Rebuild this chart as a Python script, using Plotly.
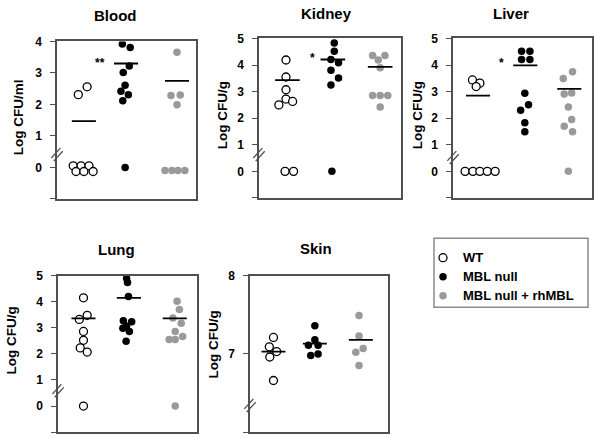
import plotly.graph_objects as go

FONT = "Liberation Sans, Arial, Helvetica, sans-serif"
W, H = 602, 439

series_names = ["WT", "MBL null", "MBL null + rhMBL"]

# ---------------- data ----------------
blood_wt_y = [2.31, 2.56, 0.05, 0.05, 0.05, -0.13, -0.13, -0.13]
blood_wt_x = [0.91, 1.10, 0.80, 0.97, 1.14, 0.86, 1.03, 1.23]
blood_null_y = [3.92, 3.81, 3.22, 3.01, 2.61, 2.42, 2.31, 2.12, 0.0]
blood_null_x = [1.86, 2.03, 2.01, 1.88, 1.92, 1.83, 1.99, 1.87, 1.92]
blood_rh_y = [3.66, 2.28, 2.30, 1.99, -0.10, -0.10, -0.10, -0.10]
blood_rh_x = [3.04, 2.91, 3.11, 3.04, 2.78, 2.93, 3.06, 3.21]
blood_means = [1.47, 3.30, 2.75]
blood_mean_x = [1.03, 1.94, 3.04]

kidney_wt_y = [4.19, 3.55, 3.07, 2.50, 2.72, 2.63, 0.0, 0.0]
kidney_wt_x = [1.02, 1.02, 1.02, 0.87, 1.02, 1.16, 1.00, 1.18]
kidney_null_y = [4.83, 4.52, 4.21, 4.09, 3.80, 3.51, 3.25, 0.0]
kidney_null_x = [2.04, 2.04, 1.97, 2.13, 1.97, 2.13, 1.97, 1.99]
kidney_rh_y = [4.36, 4.36, 4.19, 3.90, 2.85, 2.85, 2.85, 2.42]
kidney_rh_x = [2.85, 3.11, 2.97, 3.01, 2.85, 3.01, 3.17, 3.01]
kidney_means = [3.43, 4.21, 3.93]
kidney_mean_x = [1.05, 2.01, 3.01]

liver_wt_y = [3.44, 3.32, 3.19, 0.0, 0.0, 0.0, 0.0, 0.0]
liver_wt_x = [0.87, 1.03, 0.95, 0.71, 0.88, 1.03, 1.19, 1.36]
liver_null_y = [4.52, 4.52, 4.21, 4.21, 2.94, 2.51, 2.30, 1.83, 1.49]
liver_null_x = [1.93, 2.11, 1.93, 2.11, 2.00, 2.08, 1.91, 2.00, 2.00]
liver_rh_y = [3.75, 3.49, 2.91, 2.95, 2.42, 1.95, 1.70, 1.49, 0.0]
liver_rh_x = [3.03, 2.83, 2.85, 3.01, 2.94, 3.01, 2.85, 3.03, 2.94]
liver_means = [2.85, 3.99, 3.10]
liver_mean_x = [0.99, 2.01, 2.96]

lung_wt_y = [4.15, 3.48, 3.32, 2.86, 2.52, 2.23, 2.07, 0.0]
lung_wt_x = [1.00, 1.08, 0.91, 1.00, 1.00, 0.93, 1.08, 1.00]
lung_null_y = [4.90, 4.74, 4.20, 3.27, 3.23, 3.07, 2.98, 2.86, 2.48]
lung_null_x = [1.93, 1.95, 1.97, 1.86, 2.04, 1.93, 1.85, 1.99, 1.92]
lung_rh_y = [4.02, 3.70, 3.38, 3.17, 2.86, 2.55, 2.55, 2.67, 0.0]
lung_rh_x = [3.02, 3.07, 2.93, 3.11, 2.98, 2.85, 2.98, 3.14, 2.98]
lung_means = [3.36, 4.15, 3.36]
lung_mean_x = [1.00, 1.98, 2.97]

skin_wt_y = [7.21, 7.09, 7.03, 6.96, 6.66]
skin_wt_x = [0.96, 0.87, 1.03, 0.88, 0.96]
skin_null_y = [7.36, 7.18, 7.11, 7.11, 6.98, 7.00]
skin_null_x = [1.86, 1.86, 1.72, 1.93, 1.77, 1.93]
skin_rh_y = [7.49, 7.23, 7.07, 7.02, 6.85]
skin_rh_x = [2.82, 2.82, 2.91, 2.75, 2.82]
skin_means = [7.03, 7.13, 7.18]
skin_mean_x = [0.96, 1.86, 2.86]

std_ticks = [-1, 0, 1, 2, 3, 4, 5]
std_ticktext = ["", "0", "1", "2", "3", "4", "5"]
blood_ticks = [-1, 0, 1, 2, 3, 4]
blood_ticktext = ["", "0", "1", "2", "3", "4"]
skin_ticks = [6, 7, 8]
skin_ticktext = ["0", "7", "8"]

# ---------------- layout (pixel boxes) ----------------
def px2x(p):
    return p / W

def px2y(p):
    return 1 - p / H

panels = [
    dict(title="Blood", ytitle="Log CFU/ml", box=(57, 196, 35, 195), yr=[-1, 4],
         tv=blood_ticks, tt=blood_ticktext,
         wt=(blood_wt_x, blood_wt_y), null=(blood_null_x, blood_null_y), rh=(blood_rh_x, blood_rh_y),
         means=blood_means, mx=blood_mean_x,
         tpos=(115, 14), ypos=(18, 112), brk=150, star=("**", 1.38, 3.33)),
    dict(title="Kidney", ytitle="Log CFU/g", box=(259, 401, 32, 194), yr=[-1, 5],
         tv=std_ticks, tt=std_ticktext,
         wt=(kidney_wt_x, kidney_wt_y), null=(kidney_null_x, kidney_null_y), rh=(kidney_rh_x, kidney_rh_y),
         means=kidney_means, mx=kidney_mean_x,
         tpos=(327, 12), ypos=(222, 110), brk=150, star=("*", 1.59, 4.25)),
    dict(title="Liver", ytitle="Log CFU/g", box=(453, 592, 32, 194), yr=[-1, 5],
         tv=std_ticks, tt=std_ticktext,
         wt=(liver_wt_x, liver_wt_y), null=(liver_null_x, liver_null_y), rh=(liver_rh_x, liver_rh_y),
         means=liver_means, mx=liver_mean_x,
         tpos=(511, 12), ypos=(417, 110), brk=153, star=("*", 1.50, 4.06)),
    dict(title="Lung", ytitle="Log CFU/g", box=(58, 197, 273, 432), yr=[-1, 5],
         tv=std_ticks, tt=std_ticktext,
         wt=(lung_wt_x, lung_wt_y), null=(lung_null_x, lung_null_y), rh=(lung_rh_x, lung_rh_y),
         means=lung_means, mx=lung_mean_x,
         tpos=(116, 252), ypos=(12, 339), brk=390, star=None),
    dict(title="Skin", ytitle="Log CFU/g", box=(250, 388, 273, 432), yr=[6, 8],
         tv=skin_ticks, tt=skin_ticktext,
         wt=(skin_wt_x, skin_wt_y), null=(skin_null_x, skin_null_y), rh=(skin_rh_x, skin_rh_y),
         means=skin_means, mx=skin_mean_x,
         tpos=(316, 251), ypos=(214, 343), brk=405, star=None),
]

AXCOL = "#505050"
styles = {
    "wt": dict(color="white", size=8, line=dict(color="black", width=1.3)),
    "null": dict(color="black", size=7.5, line=dict(color="black", width=0)),
    "rh": dict(color="#9a9a9a", size=7.5, line=dict(color="#9a9a9a", width=0)),
}

fig = go.Figure()
layout = dict(
    width=W, height=H, margin=dict(l=0, r=0, t=0, b=0),
    paper_bgcolor="white", plot_bgcolor="white",
    font=dict(family=FONT, color="black"),
    showlegend=True,
)
annotations = []
shapes = []

for i, p in enumerate(panels):
    n = "" if i == 0 else str(i + 1)
    xa, ya = "x" + n, "y" + n
    x0, x1, y0, y1 = p["box"]
    layout["xaxis" + n] = dict(
        domain=[px2x(x0), px2x(x1)], range=[0.45, 3.45], anchor=ya,
        showline=True, mirror=True, linecolor=AXCOL, linewidth=1.5,
        showgrid=False, zeroline=False, showticklabels=False, ticks="",
        fixedrange=True,
    )
    layout["yaxis" + n] = dict(
        domain=[px2y(y1), px2y(y0)], range=p["yr"], anchor=xa,
        showline=True, mirror=True, linecolor=AXCOL, linewidth=1.5,
        showgrid=False, zeroline=False,
        tickvals=p["tv"], ticktext=p["tt"], ticks="outside", ticklen=5,
        tickcolor=AXCOL, tickwidth=1.2, ticklabelstandoff=6,
        tickfont=dict(family=FONT, size=12, color="black", weight="bold"),
        fixedrange=True,
    )
    for key, name in zip(["wt", "null", "rh"], series_names):
        xs, ys = p[key]
        fig.add_trace(go.Scatter(
            x=xs, y=ys, mode="markers", xaxis=xa, yaxis=ya,
            marker=dict(symbol="circle", **styles[key]),
            name='<span style="font-size:13px">%s</span>' % name,
            legendgroup=name, showlegend=(i == 0),
            hoverinfo="skip",
        ))
    for m, cx in zip(p["means"], p["mx"]):
        fig.add_trace(go.Scatter(
            x=[cx - 0.26, cx + 0.26], y=[m, m], mode="lines", xaxis=xa, yaxis=ya,
            line=dict(color="black", width=1.8), showlegend=False, hoverinfo="skip",
        ))
    tx, ty = p["tpos"]
    annotations.append(dict(
        text="<b>%s</b>" % p["title"], x=px2x(tx), y=px2y(ty), xref="paper", yref="paper",
        showarrow=False, xanchor="center", yanchor="middle", yshift=5,
        font=dict(family=FONT, size=15, color="black"),
    ))
    yx, yy = p["ypos"]
    annotations.append(dict(
        text="<b>%s</b>" % p["ytitle"], x=px2x(yx), y=px2y(yy), xref="paper", yref="paper",
        showarrow=False, xanchor="center", yanchor="middle", textangle=-90,
        font=dict(family=FONT, size=13.5, color="black"),
    ))
    if p["star"]:
        s, sx, sy = p["star"]
        annotations.append(dict(
            text="<b>%s</b>" % s, x=sx, y=sy, xref=xa, yref=ya,
            showarrow=False, xanchor="center", yanchor="middle",
            font=dict(family=FONT, size=12, color="black"),
        ))
    bx, by = x0, p["brk"]
    for dx, dy in [(-1.2, -1.6), (1.2, 1.6)]:
        shapes.append(dict(
            type="line", xref="paper", yref="paper",
            x0=px2x(bx - 4.5 + dx), y0=px2y(by + 5 + dy),
            x1=px2x(bx + 4.5 + dx), y1=px2y(by - 5 + dy),
            line=dict(color=AXCOL, width=1.3),
        ))

shapes.append(dict(
    type="rect", xref="paper", yref="paper",
    x0=px2x(434), x1=px2x(588), y0=px2y(305), y1=px2y(235),
    line=dict(color="#8a8a8a", width=1.5), fillcolor="rgba(0,0,0,0)",
))

layout["annotations"] = annotations
layout["shapes"] = shapes
layout["legend"] = dict(
    x=px2x(423), y=px2y(240), xanchor="left", yanchor="top",
    bgcolor="rgba(0,0,0,0)", borderwidth=0,
    font=dict(family=FONT, size=11.5, color="black", weight="bold"),
    itemclick=False, itemdoubleclick=False, tracegroupgap=0,
)
fig.update_layout(**layout)
fig.write_html(
    "out.html",
    config={"displayModeBar": False},
    post_script="document.body.style.margin='0';document.body.style.overflow='hidden';",
)
